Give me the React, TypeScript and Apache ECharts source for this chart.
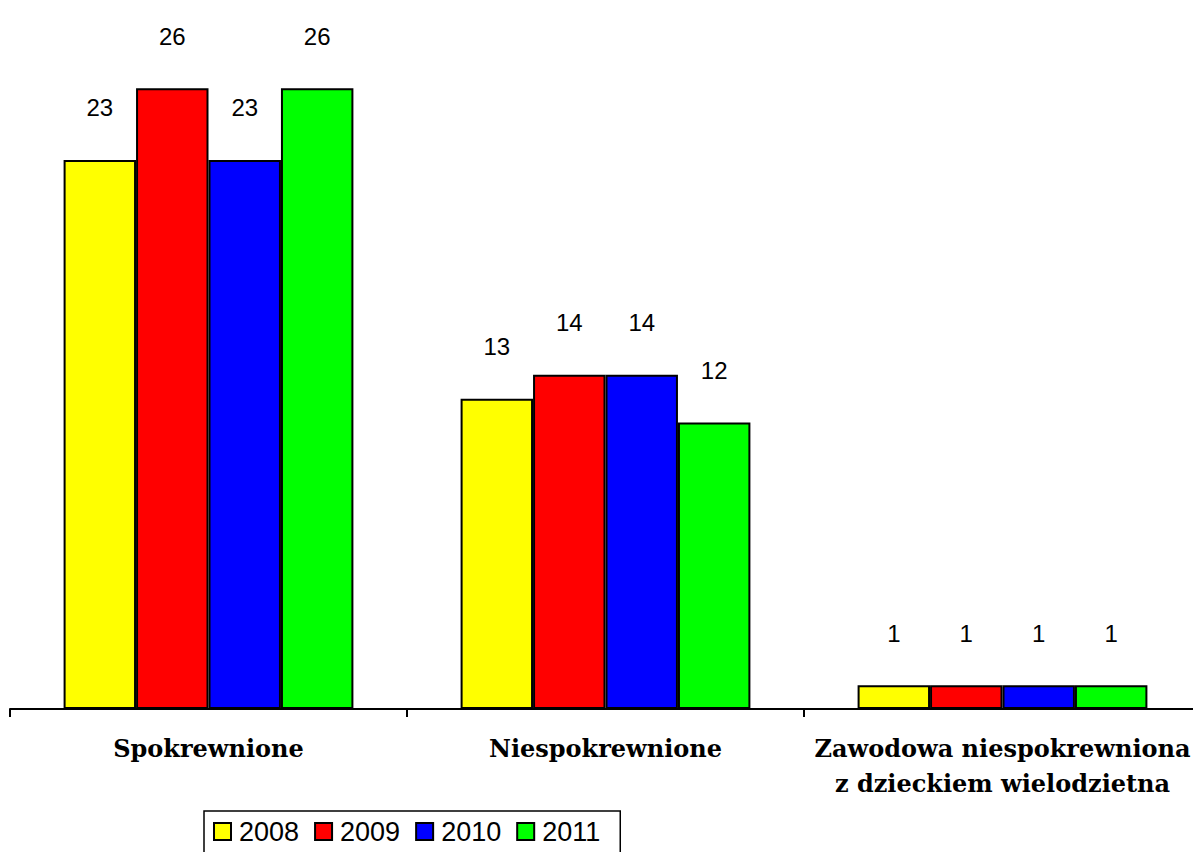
import React, { useEffect, useRef } from "react";
import * as echarts from "echarts";

const categories = ["Spokrewnione", "Niespokrewnione", "Zawodowa niespokrewniona\nz dzieckiem wielodzietna"];
const years = ["2008", "2009", "2010", "2011"];
const values2008 = [23, 13, 1];
const values2009 = [26, 14, 1];
const values2010 = [23, 14, 1];
const values2011 = [26, 12, 1];
const colors = ["#FFFF00", "#FF0000", "#0000FF", "#00FF00"];

export default function App() {
  const ref = useRef<HTMLDivElement>(null);
  useEffect(() => {
    if (!ref.current) return;
    const chart = echarts.init(ref.current, null, { renderer: "svg" });
    const all = [values2008, values2009, values2010, values2011];
    chart.setOption({
      animation: false,
      backgroundColor: "#ffffff",
      grid: { left: 10, width: 1191, top: 0, height: 709, containLabel: false },
      legend: {
        data: years,
        left: 204,
        top: 811,
        orient: "horizontal",
        padding: [7, 20, 10, 9],
        icon: "rect",
        itemWidth: 17,
        itemHeight: 17,
        itemGap: 15,
        borderColor: "#000",
        borderWidth: 1.5,
        itemStyle: { borderColor: "#000", borderWidth: 2 },
        textStyle: {
          fontFamily: "Liberation Sans, Arial",
          fontSize: 27,
          lineHeight: 27,
          color: "#000",
          padding: [0, 0, 0, 3],
        },
      },
      xAxis: {
        type: "category",
        data: categories,
        boundaryGap: true,
        axisLine: { lineStyle: { color: "#000", width: 2 } },
        axisTick: { show: true, length: 8, lineStyle: { color: "#000", width: 2 } },
        axisLabel: {
          margin: 22,
          fontFamily: "DejaVu Serif",
          fontWeight: "bold",
          fontSize: 24,
          color: "#000",
          lineHeight: 35,
          interval: 0,
        },
      },
      yAxis: {
        type: "value",
        min: 0,
        max: 29.7,
        show: false,
        splitLine: { show: false },
      },
      series: years.map((y, i) => ({
        name: y,
        type: "bar",
        data: all[i],
        barGap: "0%",
        barCategoryGap: "27%",
        itemStyle: { color: colors[i], borderColor: "#000", borderWidth: 2 },
        label: {
          show: true,
          position: "top",
          distance: 40,
          fontFamily: "Liberation Sans, Arial",
          fontSize: 24,
          color: "#000",
        },
      })),
    });
    return () => chart.dispose();
  }, []);
  return (
    <div style={{ position: "fixed", left: 0, top: 0, width: 1193, height: 852, overflow: "hidden", background: "#fff" }}>
      <div ref={ref} style={{ width: 1215, height: 852 }} />
    </div>
  );
}
